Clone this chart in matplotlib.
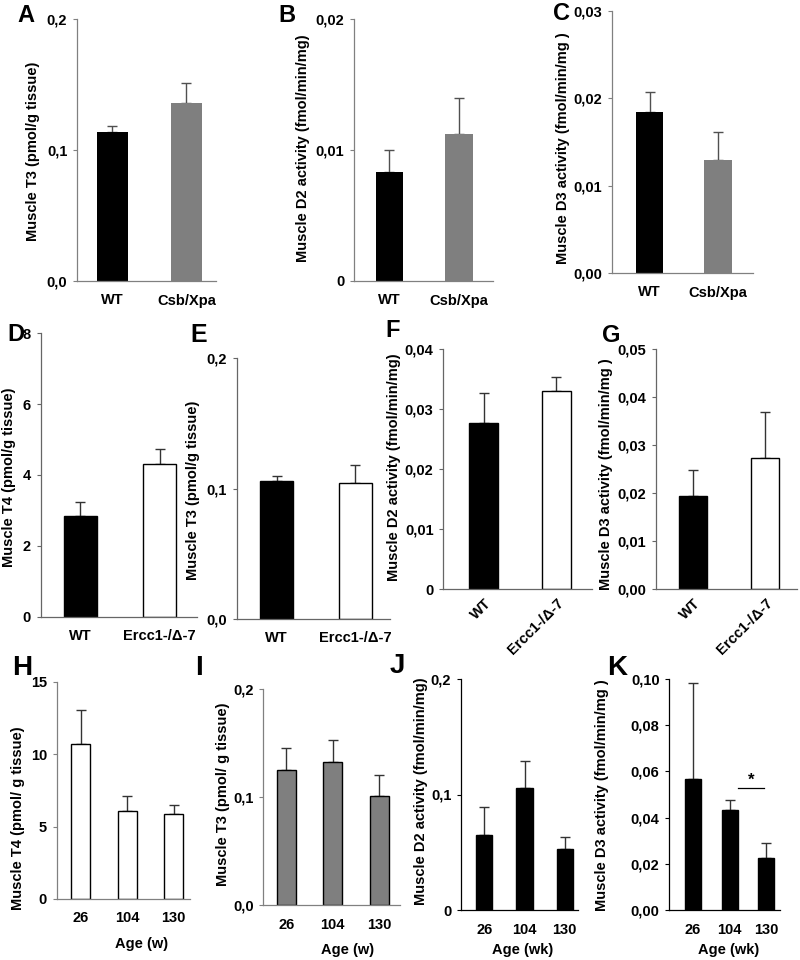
import matplotlib.pyplot as plt

plt.rcParams['font.family'] = ['Liberation Sans', 'DejaVu Sans']
plt.rcParams['font.weight'] = 'bold'
plt.rcParams['axes.labelweight'] = 'bold'
plt.rcParams['font.size'] = 10.5

# A-C: Csb/Xpa mice
csb_groups = ['WT', 'Csb/Xpa']
a_mean = [0.114, 0.136]
a_sem = [0.004, 0.015]
b_mean = [0.0083, 0.0112]
b_sem = [0.0017, 0.0028]
c_mean = [0.0184, 0.0129]
c_sem = [0.0023, 0.0032]

# D-G: Ercc1 mice
ercc_groups = ['WT', 'Ercc1-/\u0394-7']
d_mean = [2.84, 4.32]
d_sem = [0.41, 0.40]
e_mean = [0.1056, 0.1041]
e_sem = [0.0041, 0.0144]
f_mean = [0.0278, 0.0331]
f_sem = [0.0050, 0.0023]
g_mean = [0.0194, 0.0273]
g_sem = [0.0055, 0.0096]

# H-K: ageing
ages = ['26', '104', '130']
h_mean = [10.67, 6.07, 5.84]
h_sem = [2.41, 1.03, 0.67]
i_mean = [0.1253, 0.1324, 0.1015]
i_sem = [0.0201, 0.0207, 0.0195]
j_mean = [0.0649, 0.1053, 0.0528]
j_sem = [0.0240, 0.0240, 0.0101]
k_mean = [0.0566, 0.0431, 0.0227]
k_sem = [0.0415, 0.0047, 0.0064]
k_sig_x = [1.24, 1.93]
k_sig_y = 0.0527

fig = plt.figure(figsize=(8, 9.6), dpi=100)
W, H = 800, 960


def panel(box, labels, mean, sem, fc, ec, width, xlim, ymax, yticks, ytl,
          ylabel, ylab_xy, spine='#808080', rot=0, errc='#333333'):
    l, r, t, b = box
    ax = fig.add_axes([l / W, 1 - b / H, (r - l) / W, (b - t) / H])
    x = list(range(len(mean)))
    ax.bar(x, mean, width=width, color=fc, edgecolor=ec, linewidth=1.0, zorder=2)
    ax.errorbar(x, mean, yerr=[[0] * len(sem), sem], fmt='none', ecolor=errc,
                elinewidth=1.0, capsize=3.5, capthick=1.0, zorder=1)
    ax.set_xlim(*xlim)
    ax.set_ylim(0, ymax)
    ax.set_yticks(yticks)
    ax.set_yticklabels(ytl)
    ax.set_xticks(x)
    if rot:
        ax.set_xticklabels(labels, rotation=rot, ha='right', rotation_mode='anchor')
        ax.tick_params(axis='x', length=0, pad=5)
    else:
        ax.set_xticklabels(labels)
        ax.tick_params(axis='x', length=0, pad=9)
    ax.tick_params(axis='y', length=3, width=0.8, color=spine, pad=4)
    for s in ['top', 'right']:
        ax.spines[s].set_visible(False)
    for s in ['left', 'bottom']:
        ax.spines[s].set_color(spine)
        ax.spines[s].set_linewidth(0.9)
    ax.set_ylabel(ylabel, va='center')
    ax.yaxis.set_label_coords((ylab_xy[0] - l) / (r - l), (b - ylab_xy[1]) / (b - t))
    ax.patch.set_visible(False)
    return ax


def xlab(ax, box, text, xy):
    l, r, t, b = box
    ax.set_xlabel(text, va='center')
    ax.xaxis.set_label_coords((xy[0] - l) / (r - l), (b - xy[1]) / (b - t))


grey = '#7f7f7f'

panel((77, 216, 19, 281), csb_groups, a_mean, a_sem, ['black', grey], 'none', 0.42,
      (-0.48, 1.4), 0.2, [0, 0.1, 0.2], ['0,0', '0,1', '0,2'],
      'Muscle T3 (pmol/g tissue)', (33, 151), errc='#505050')
panel((354, 493, 19, 281), csb_groups, b_mean, b_sem, ['black', grey], 'none', 0.4,
      (-0.51, 1.49), 0.02, [0, 0.01, 0.02], ['0', '0,01', '0,02'],
      'Muscle D2 activity (fmol/min/mg)', (303, 148), errc='#505050')
panel((612, 753, 11, 273), csb_groups, c_mean, c_sem, ['black', grey], 'none', 0.4,
      (-0.55, 1.51), 0.03, [0, 0.01, 0.02, 0.03], ['0,00', '0,01', '0,02', '0,03'],
      'Muscle D3 activity (fmol/min/mg )', (563, 148), errc='#505050')

panel((40.7, 197, 333.3, 616.7), ercc_groups, d_mean, d_sem, ['black', 'white'], 'black', 0.41,
      (-0.5, 1.47), 8, [0, 2, 4, 6, 8], ['0', '2', '4', '6', '8'],
      'Muscle T4 (pmol/g tissue)', (9, 477), spine='#666666')
panel((236.7, 390, 358.3, 619), ercc_groups, e_mean, e_sem, ['black', 'white'], 'black', 0.42,
      (-0.51, 1.44), 0.2, [0, 0.1, 0.2], ['0,0', '0,1', '0,2'],
      'Muscle T3 (pmol/g tissue)', (193, 490), spine='#666666')
panel((443.3, 591.7, 349.3, 589.3), ercc_groups, f_mean, f_sem, ['black', 'white'], 'black', 0.4,
      (-0.56, 1.49), 0.04, [0, 0.01, 0.02, 0.03, 0.04], ['0', '0,01', '0,02', '0,03', '0,04'],
      'Muscle D2 activity (fmol/min/mg)', (394, 467), spine='#666666', rot=45)
panel((656, 797, 349.3, 589.3), ercc_groups, g_mean, g_sem, ['black', 'white'], 'black', 0.39,
      (-0.51, 1.44), 0.05, [0, 0.01, 0.02, 0.03, 0.04, 0.05],
      ['0,00', '0,01', '0,02', '0,03', '0,04', '0,05'],
      'Muscle D3 activity (fmol/min/mg )', (606, 474), spine='#666666', rot=45)

box_h = (56.7, 190, 681.7, 899)
ax_h = panel(box_h, ages, h_mean, h_sem, 'white', 'black', 0.41,
             (-0.52, 2.35), 15, [0, 5, 10, 15], ['0', '5', '10', '15'],
             'Muscle T4 (pmol/ g tissue)', (18, 818))
xlab(ax_h, box_h, 'Age (w)', (142, 944))
box_i = (263.3, 400, 689.3, 905.3)
ax_i = panel(box_i, ages, i_mean, i_sem, grey, 'black', 0.41,
             (-0.49, 2.44), 0.2, [0, 0.1, 0.2], ['0,0', '0,1', '0,2'],
             'Muscle T3 (pmol/ g tissue)', (223, 794))
xlab(ax_i, box_i, 'Age (w)', (348, 950))
box_j = (461, 578, 679, 910)
ax_j = panel(box_j, ages, j_mean, j_sem, 'black', 'black', 0.4,
             (-0.58, 2.33), 0.2, [0, 0.1, 0.2], ['0', '0,1', '0,2'],
             'Muscle D2 activity (fmol/min/mg)', (421, 791), spine='black')
xlab(ax_j, box_j, 'Age (wk)', (523, 950))
box_k = (669.3, 780, 679, 910)
ax_k = panel(box_k, ages, k_mean, k_sem, 'black', 'black', 0.44,
             (-0.65, 2.38), 0.10, [0, 0.02, 0.04, 0.06, 0.08, 0.10],
             ['0,00', '0,02', '0,04', '0,06', '0,08', '0,10'],
             'Muscle D3 activity (fmol/min/mg )', (602, 795), spine='black')
xlab(ax_k, box_k, 'Age (wk)', (729, 950))
ax_k.plot(k_sig_x, [k_sig_y, k_sig_y], color='black', linewidth=0.9)
ax_k.text(sum(k_sig_x) / 2, k_sig_y, '*', ha='center', va='bottom', fontsize=12)

# panel letters
letters = [('A', 17, 22, 17), ('B', 278, 22, 17), ('C', 553, 20, 17),
           ('D', 7, 341, 17), ('E', 190, 342, 18), ('F', 385, 337, 17), ('G', 602, 342, 17),
           ('H', 12, 675, 20), ('I', 195, 675, 20), ('J', 390, 673, 20), ('K', 607, 675, 20)]
for txt, x, y, fs in letters:
    fig.text(x / W, 1 - y / H, txt, fontsize=fs, fontweight='bold', ha='left', va='baseline')

fig.savefig('out.png', dpi=100)
